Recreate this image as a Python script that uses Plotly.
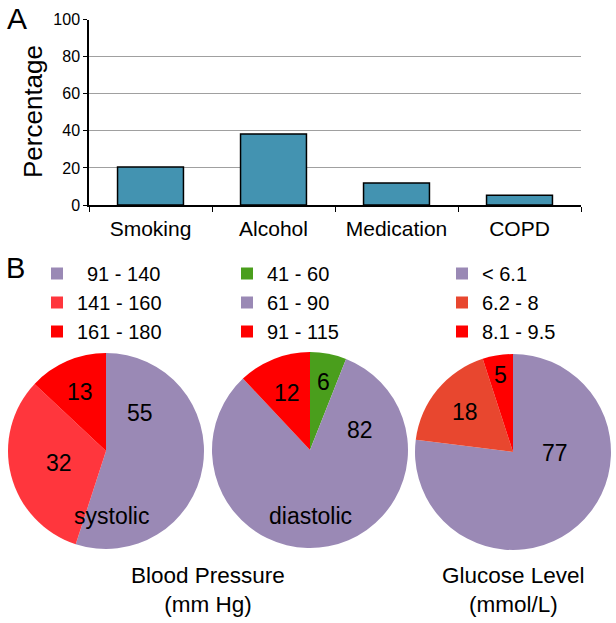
import math
import plotly.graph_objects as go

W, H = 616, 623

# ---- data ----
bar_categories = ["Smoking", "Alcohol", "Medication", "COPD"]
bar_values = [20.5, 38.3, 11.9, 5.2]

sys_labels = ["\u200291 - 140", "141 - 160", "161 - 180"]
sys_values = [55, 32, 13]
dia_labels = ["41 - 60", "61 - 90", "91 - 115"]
dia_values = [6, 82, 12]
glu_labels = ["< 6.1", "6.2 - 8", "8.1 - 9.5"]
glu_values = [77, 18, 5]

# ---- label placement (style): angle override in degrees clockwise from 12 o'clock
# (None = slice middle) and distance as a fraction of radius
sys_lbl_angle = [42, None, None]
sys_lbl_rad = [0.52, 0.5, 0.66]
dia_lbl_angle = [None, 68, None]
dia_lbl_rad = [0.71, 0.55, 0.63]
glu_lbl_angle = [91, None, None]
glu_lbl_rad = [0.43, 0.64, 0.8]

PURPLE = "#9A89B5"
LRED = "#FF363D"
RED = "#FF0000"
GREEN = "#4A9E1C"
ORANGE = "#E8472F"
BAR = "#4393B1"

FONT = "Liberation Sans, Arial, sans-serif"


def px(x):
    return x / W


def py(y):
    return 1 - y / H


def pie_domain(cx, cy, r):
    return dict(x=[px(cx - r), px(cx + r)], y=[py(cy + r), py(cy - r)])


fig = go.Figure()

fig.add_trace(go.Bar(
    x=bar_categories, y=bar_values, width=0.536,
    marker=dict(color=BAR, line=dict(color="black", width=1.5)),
    showlegend=False,
))

pie_common = dict(
    sort=False, direction="clockwise", rotation=0,
    textinfo="none", hoverinfo="label+value",
)

pies = [
    (sys_labels, sys_values, [PURPLE, LRED, RED], (106, 451), "legend",
     sys_lbl_angle, sys_lbl_rad),
    (dia_labels, dia_values, [GREEN, PURPLE, RED], (310, 450), "legend2",
     dia_lbl_angle, dia_lbl_rad),
    (glu_labels, glu_values, [PURPLE, ORANGE, RED], (513, 452), "legend3",
     glu_lbl_angle, glu_lbl_rad),
]
R = 98
for labels, values, colors, (cx, cy), leg, angs, rads in pies:
    fig.add_trace(go.Pie(
        labels=labels, values=values,
        marker=dict(colors=colors, line=dict(width=0)),
        domain=pie_domain(cx, cy, R), legend=leg, **pie_common))
    total = sum(values)
    cum = 0
    for v, a, rf in zip(values, angs, rads):
        mid = (cum + v / 2) / total * 360
        cum += v
        ang = math.radians(mid if a is None else a)
        lx = cx + rf * R * math.sin(ang)
        ly = cy - rf * R * math.cos(ang)
        fig.add_annotation(
            text=str(v), x=px(lx), y=py(ly), xref="paper", yref="paper",
            showarrow=False, xanchor="center", yanchor="middle",
            font=dict(size=23, family=FONT, color="black"),
        )

leg_common = dict(
    font=dict(size=20, color="black", family=FONT),
    bgcolor="rgba(0,0,0,0)", yanchor="top", xanchor="left",
    tracegroupgap=0, itemclick=False,
)

fig.update_layout(
    width=W, height=H,
    margin=dict(l=0, r=0, t=0, b=0, autoexpand=False),
    paper_bgcolor="white", plot_bgcolor="white",
    font=dict(family=FONT, color="black"),
    xaxis=dict(
        domain=[px(89), px(581)], type="category", range=[-0.5, 3.5],
        showline=True, linecolor="black", linewidth=1.5,
        ticks="outside", tickson="boundaries", ticklen=5, tickcolor="black",
        tickwidth=1.2, tickfont=dict(size=21, family=FONT, color="black"),
        ticklabelstandoff=4, showgrid=False, zeroline=False,
    ),
    yaxis=dict(
        domain=[py(205), py(19.5)], range=[0, 100], dtick=20,
        showline=True, linecolor="black", linewidth=1.5,
        ticks="outside", ticklen=4, tickcolor="black", tickwidth=1.2,
        tickfont=dict(size=16, family=FONT, color="black"),
        showgrid=True, gridcolor="#A0A0A0", gridwidth=1, zeroline=False,
    ),
    legend=dict(x=px(37), y=py(254), **leg_common),
    legend2=dict(x=px(227), y=py(254), **leg_common),
    legend3=dict(x=px(442), y=py(254), **leg_common),
)

ann = [
    dict(text="A", x=px(17), y=py(19), size=30),
    dict(text="B", x=px(15), y=py(268), size=29),
    dict(text="Percentage", x=px(33), y=py(112), size=26, angle=-90),
    dict(text="systolic", x=px(111), y=py(516), size=23),
    dict(text="diastolic", x=px(310), y=py(516), size=23),
    dict(text="Blood Pressure<br>(mm Hg)", x=px(208), y=py(590), size=22.5),
    dict(text="Glucose Level<br>(mmol/L)", x=px(513), y=py(590), size=22.5),
]
for a in ann:
    fig.add_annotation(
        text=a["text"], x=a["x"], y=a["y"], xref="paper", yref="paper",
        showarrow=False, xanchor="center", yanchor="middle",
        textangle=a.get("angle", 0),
        font=dict(size=a["size"], family=FONT, color="black"),
    )

fig.write_html(
    "out.html",
    config={"displayModeBar": False},
    post_script="document.body.style.margin='0';document.body.style.overflow='hidden';",
)
